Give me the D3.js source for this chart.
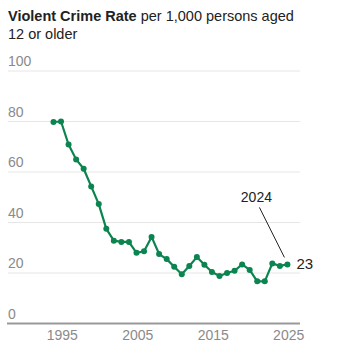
<!DOCTYPE html>
<html><head><meta charset="utf-8">
<script src="https://cdn.jsdelivr.net/npm/d3@7"></script>
<style>body{margin:0;background:#fff;}svg{display:block;font-family:"Liberation Sans",Arial,sans-serif;}</style>
</head><body><svg id="c" width="343" height="353"></svg>
<script>
const years = [1993,1994,1995,1996,1997,1998,1999,2000,2001,2002,2003,2004,2005,2006,2007,2008,2009,2010,2011,2012,2013,2014,2015,2016,2017,2018,2019,2020,2021,2022,2023,2024];
const rates = [79.8,80.0,70.9,65.0,61.3,54.3,47.3,37.5,32.8,32.3,32.3,28.0,28.6,34.3,27.5,25.5,22.5,19.5,22.8,26.3,23.3,20.4,18.8,20.0,20.9,23.4,21.2,16.7,16.7,23.8,22.8,23.4];
const yTicks = [0,20,40,60,80,100];
const xTicks = [1995,2005,2015,2025];
const annotYear = "2024", annotValue = "23";

const svg = d3.select("#c");
const green = "#0b8450";
const x = d3.scaleLinear().domain([1995,2025]).range([62.3,288.7]);
const y = d3.scaleLinear().domain([0,100]).range([323.5,71]);
const off = 0.83;

// title
const t = svg.append("text").attr("x",8).attr("y",21).attr("font-size",14.5).attr("fill","#222");
t.append("tspan").attr("font-weight","bold").text("Violent Crime Rate");
t.append("tspan").text(" per 1,000 persons aged");
svg.append("text").attr("x",8).attr("y",39).attr("font-size",14.5).attr("fill","#222").text("12 or older");

// grid
svg.append("g").selectAll("line").data(yTicks.filter(d=>d>0)).join("line")
  .attr("x1",8).attr("x2",300).attr("y1",d=>y(d)).attr("y2",d=>y(d))
  .attr("stroke","#e6e6e6").attr("stroke-width",1);
svg.append("g").selectAll("text").data(yTicks).join("text")
  .attr("x",8).attr("y",d=>y(d)-5).attr("font-size",14).attr("fill","#8a8a8a").text(d=>d);
svg.append("line").attr("x1",7).attr("x2",300).attr("y1",y(0)).attr("y2",y(0))
  .attr("stroke","#999").attr("stroke-width",2);

// x axis labels
svg.append("g").selectAll("text").data(xTicks).join("text")
  .attr("x",d=>x(d)).attr("y",340).attr("text-anchor","middle")
  .attr("font-size",14).attr("fill","#8a8a8a").text(d=>d);

// line
const data = years.map((yr,i)=>({yr,v:rates[i]}));
svg.append("path").datum(data)
  .attr("d",d3.line().x(d=>x(d.yr+off)).y(d=>y(d.v)))
  .attr("fill","none").attr("stroke",green).attr("stroke-width",2.2).attr("stroke-linejoin","round");
svg.append("g").selectAll("circle").data(data).join("circle")
  .attr("cx",d=>x(d.yr+off)).attr("cy",d=>y(d.v)).attr("r",3).attr("fill",green);

// annotation
const last = data[data.length-1];
const lx = x(last.yr+off), ly = y(last.v);
svg.append("text").attr("x",lx-31).attr("y",ly-62).attr("text-anchor","middle")
  .attr("font-size",14).attr("fill","#222").text(annotYear);
svg.append("line").attr("x1",lx-28).attr("y1",ly-57).attr("x2",lx-3).attr("y2",ly-7)
  .attr("stroke","#222").attr("stroke-width",1);
svg.append("text").attr("x",lx+9).attr("y",ly+5).attr("font-size",15).attr("fill","#222").text(annotValue);
</script></body></html>
